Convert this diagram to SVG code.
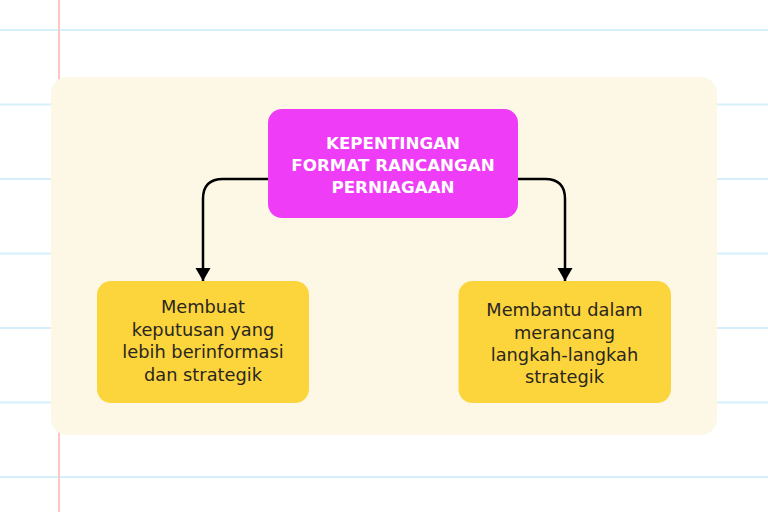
<svg xmlns="http://www.w3.org/2000/svg" width="768" height="512" viewBox="0 0 768 512">
<defs>
<style>
.rule{stroke:#d5effb;stroke-width:2}
.node-top{fill:#ef3cf6}
.node-leaf{fill:#fcd53c}
.t-top{font-family:"DejaVu Sans","Liberation Sans",sans-serif;font-weight:700;font-size:16.7px;fill:#ffffff;text-anchor:middle}
.t-leaf{font-family:"DejaVu Sans","Liberation Sans",sans-serif;font-weight:400;font-size:17.8px;fill:#2a2620;text-anchor:middle}
.conn{fill:none;stroke:#000000;stroke-width:2.5}
</style>
<marker id="arrow" markerUnits="userSpaceOnUse" markerWidth="16" markerHeight="16" refX="13" refY="7.5" orient="auto">
<path d="M0,0 L13,7.5 L0,15 Z" fill="#000000"/>
</marker>
</defs>
<rect x="0" y="0" width="768" height="512" fill="#ffffff"/>
<g id="paper">
<line class="rule" x1="0" y1="30" x2="768" y2="30"/>
<line class="rule" x1="0" y1="104.5" x2="768" y2="104.5"/>
<line class="rule" x1="0" y1="179" x2="768" y2="179"/>
<line class="rule" x1="0" y1="253.5" x2="768" y2="253.5"/>
<line class="rule" x1="0" y1="328" x2="768" y2="328"/>
<line class="rule" x1="0" y1="402.5" x2="768" y2="402.5"/>
<line class="rule" x1="0" y1="477" x2="768" y2="477"/>
<line x1="59" y1="0" x2="59" y2="512" stroke="#fcc6c6" stroke-width="2"/>
<rect x="51" y="77" width="666" height="358" rx="16" fill="#fdf8e6"/>
</g>
<g id="connectors">
<path class="conn" d="M268,179 H223 Q203,179 203,199 V281" marker-end="url(#arrow)"/>
<path class="conn" d="M517,179 H545 Q565,179 565,199 V281" marker-end="url(#arrow)"/>
</g>
<g id="node-main">
<rect class="node-top" x="268" y="109" width="250" height="109" rx="14"/>
<text class="t-top" x="393" y="149">KEPENTINGAN</text>
<text class="t-top" x="393" y="171">FORMAT RANCANGAN</text>
<text class="t-top" x="393" y="193">PERNIAGAAN</text>
</g>
<g id="node-left">
<rect class="node-leaf" x="97" y="281" width="212" height="122" rx="14"/>
<text class="t-leaf" x="203" y="313">Membuat</text>
<text class="t-leaf" x="203" y="335.5">keputusan yang</text>
<text class="t-leaf" x="203" y="358">lebih berinformasi</text>
<text class="t-leaf" x="203" y="380.5">dan strategik</text>
</g>
<g id="node-right">
<rect class="node-leaf" x="458.5" y="281" width="212.5" height="122" rx="14"/>
<text class="t-leaf" x="564.5" y="316">Membantu dalam</text>
<text class="t-leaf" x="564.5" y="338.5">merancang</text>
<text class="t-leaf" x="564.5" y="361">langkah-langkah</text>
<text class="t-leaf" x="564.5" y="383">strategik</text>
</g>
</svg>
